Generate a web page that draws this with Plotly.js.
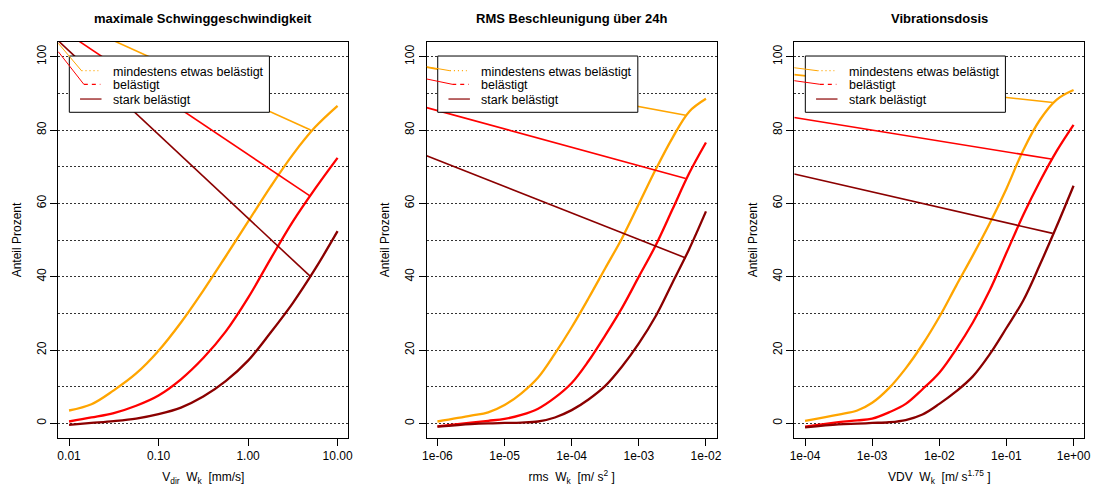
<!DOCTYPE html>
<html><head><meta charset="utf-8">
<script src="https://cdn.plot.ly/plotly-3.0.1.min.js"></script>
<style>html,body{margin:0;padding:0;background:#fff}#chart{width:1097px;height:486px}</style>
</head><body><div id="chart"></div>
<script>
// ---- data ----
const seriesNames = ["mindestens etwas belästigt", "belästigt", "stark belästigt"];
const seriesColors = ["#FFA500", "#FF0000", "#8B0000"];
const panelTitles = ["maximale Schwinggeschwindigkeit", "RMS Beschleunigung über 24h", "Vibrationsdosis"];
const xTitles = ["V<sub>dir</sub>\u00a0\u00a0W<sub>k</sub>\u00a0\u00a0[mm/s]",
                 "rms\u00a0\u00a0W<sub>k</sub>\u00a0\u00a0[m/\u00a0s<sup>2</sup>\u00a0]",
                 "VDV\u00a0\u00a0W<sub>k</sub>\u00a0\u00a0[m/\u00a0s<sup>1.75</sup>\u00a0]"];
const yTitle = "Anteil Prozent";

// panel 1: maximale Schwinggeschwindigkeit
const vX      = [0.01, 0.0178, 0.0316, 0.0562, 0.1, 0.178, 0.316, 0.562, 1, 1.78, 3.16, 5.62, 10];
const vOrange = [3.5, 5.2, 9.0, 13.6, 19.8, 27.5, 36.2, 45.5, 55, 64.5, 73.3, 80.8, 86.6];
const vRed    = [0.5, 1.6, 2.8, 4.8, 7.6, 12, 17.8, 25, 34.2, 44.8, 55, 64, 72.4];
const vDark   = [-0.4, 0.1, 0.6, 1.3, 2.5, 4.3, 7.3, 11.5, 17.1, 24.7, 32.8, 42.1, 52.4];
const vSegX = [0.0076, 5];
const vSegOrange = [111.2, 80];
const vSegRed = [108, 61.9];
const vSegDark = [104.3, 40];
const vTickVals = [0.01, 0.1, 1, 10];
const vTickText = ["0.01", "0.10", "1.00", "10.00"];

// panel 2: RMS Beschleunigung über 24h
const aX      = [1e-6, 3.16e-6, 5.7e-6, 1e-5, 1.78e-5, 3.16e-5, 5.62e-5, 1e-4, 1.78e-4, 3.16e-4, 5.62e-4, 1e-3, 1.78e-3, 3.16e-3, 5.62e-3, 1e-2];
const aOrange = [0.5, 2.1, 3.0, 5.0, 8.2, 12.5, 19, 26.2, 34.1, 42.3, 50.5, 59.8, 69.2, 77.8, 85, 88.5];
const aRed    = [-0.8, 0.2, 0.7, 1.2, 2.3, 4.0, 7.0, 11, 17, 24, 31.5, 40, 48.5, 58.3, 68.2, 76.6];
const aDark   = [-0.9, -0.2, 0.0, 0.1, 0.2, 0.5, 1.6, 3.6, 6.5, 10.2, 15.5, 21.8, 29.2, 38.3, 47.5, 57.8];
const aSegX = [6.9e-7, 5e-3];
const aSegOrange = [97.1, 84];
const aSegRed = [86.1, 66.8];
const aSegDark = [73.0, 45.1];
const aTickVals = [1e-6, 1e-5, 1e-4, 1e-3, 1e-2];
const aTickText = ["1e-06", "1e-05", "1e-04", "1e-03", "1e-02"];

// panel 3: Vibrationsdosis
const dX      = [1e-4, 3.16e-4, 6.0e-4, 1e-3, 1.78e-3, 3.16e-3, 5.62e-3, 1e-2, 1.78e-2, 3.16e-2, 5.62e-2, 0.1, 0.178, 0.316, 0.562, 1];
const dOrange = [0.7, 2.4, 3.5, 5.6, 9.6, 15, 21.5, 29, 37.5, 45.8, 54.5, 64, 74.5, 82.8, 88.3, 90.9];
const dRed    = [-0.9, 0.3, 0.8, 1.3, 3.0, 5.3, 9.3, 13.8, 20.2, 27.5, 36.2, 46.5, 56.8, 66, 74.3, 81.4];
const dDark   = [-1.1, -0.3, -0.1, 0.1, 0.3, 0.9, 2.4, 5.3, 8.7, 12.8, 18.8, 26, 33.5, 43.3, 53.8, 64.8];
const dSegX = [6.9e-5, 0.49];
const dSegOrange = [95.1, 87.5];
const dSegRed = [83.4, 72.0];
const dSegDark = [68.0, 51.8];
const dTickVals = [1e-4, 1e-3, 1e-2, 1e-1, 1];
const dTickText = ["1e-04", "1e-03", "1e-02", "1e-01", "1e+00"];

const yTickVals = [0, 20, 40, 60, 80, 100];

// ---- build ----
const panels = [
  {x: vX, ys: [vOrange, vRed, vDark], segX: vSegX, segs: [vSegOrange, vSegRed, vSegDark], tv: vTickVals, tt: vTickText, range: [-2.12, 1.12], thin: [0.9967, 0.9755]},
  {x: aX, ys: [aOrange, aRed, aDark], segX: aSegX, segs: [aSegOrange, aSegRed, aSegDark], tv: aTickVals, tt: aTickText, range: [-6.16, -1.84], thin: [0.9376, 0.9066]},
  {x: dX, ys: [dOrange, dRed, dDark], segX: dSegX, segs: [dSegOrange, dSegRed, dSegDark], tv: dTickVals, tt: dTickText, range: [-4.16, 0.16], thin: [0.935, 0.9023]}
];

const W = 1097, H = 486;
const plotLeftPx = [58.3, 426.7, 794.3];
const plotWidthPx = 290;
const yDom = [1 - 438 / H, 1 - 42 / H];
const font = {family: "Liberation Sans, Arial, Helvetica, sans-serif", size: 12, color: "#000"};
const legendFont = {family: font.family, size: 12.5, color: "#000"};

const traces = [];
const layout = {
  width: W, height: H,
  margin: {l: 0, r: 0, t: 0, b: 0},
  paper_bgcolor: "#fff", plot_bgcolor: "#fff",
  showlegend: false,
  font: font,
  shapes: [], annotations: []
};

const keyDash = ["1px,3px", "4px,4px", "solid"];
const keyX = [[0.08, 0.138], [0.088, 0.145], [0.075, 0.149]];
const rowY = [0.9275, 0.8932, 0.856];

panels.forEach((p, i) => {
  const n = i === 0 ? "" : String(i + 1);
  const xa = "x" + n, ya = "y" + n;
  p.ys.forEach((y, k) => {
    traces.push({x: p.x, y: y, xaxis: xa, yaxis: ya, type: "scatter", mode: "lines",
      line: {color: seriesColors[k], width: 2.3, shape: "spline", smoothing: 1.0},
      name: seriesNames[k], hoverinfo: "skip"});
  });
  p.segs.forEach((y, k) => {
    traces.push({x: p.segX, y: y, xaxis: xa, yaxis: ya, type: "scatter", mode: "lines",
      line: {color: seriesColors[k], width: 1.6}, name: seriesNames[k], hoverinfo: "skip"});
  });
  const x0 = plotLeftPx[i] / W, x1 = (plotLeftPx[i] + plotWidthPx) / W;
  layout["xaxis" + n] = {
    domain: [x0, x1], anchor: ya, type: "log", range: p.range,
    tickmode: "array", tickvals: p.tv, ticktext: p.tt,
    ticks: "outside", ticklen: 7, tickcolor: "#000", tickwidth: 1,
    showline: true, mirror: true, linecolor: "#000", linewidth: 1,
    showgrid: false, zeroline: false, automargin: false,
    tickfont: font,
    title: {text: xTitles[i], font: font, standoff: 12}
  };
  layout["yaxis" + n] = {
    domain: yDom, anchor: xa, range: [-4, 104],
    tickmode: "array", tickvals: yTickVals, tickangle: -90,
    ticks: "outside", ticklen: 7, tickcolor: "#000", tickwidth: 1,
    showline: true, mirror: true, linecolor: "#000", linewidth: 1,
    showgrid: true, gridcolor: "#333", gridwidth: 1, griddash: "2px,2px",
    minor: {dtick: 10, tick0: 0, showgrid: true, gridcolor: "#333", gridwidth: 1, griddash: "2px,2px", ticks: ""},
    zeroline: false, automargin: false,
    tickfont: font,
    title: {text: yTitle, font: font, standoff: 10}
  };
  // panel title
  layout.annotations.push({text: "<b>" + panelTitles[i] + "</b>", xref: "paper", yref: "paper",
    x: (x0 + x1) / 2, y: 1 - 18.3 / H, xanchor: "center", yanchor: "middle", showarrow: false,
    font: {family: font.family, size: 13, color: "#000"}});
  // legend (drawn by hand, like the R legend)
  const xr = xa + " domain", yr = ya + " domain";
  layout.shapes.push({type: "rect", xref: xr, yref: yr, x0: 0.038, x1: 0.728, y0: 0.8225, y1: 0.9646,
    fillcolor: "#fff", line: {color: "#000", width: 1}, layer: "above"});
  // thin lines running to the legend keys
  layout.shapes.push({type: "line", xref: xr, yref: yr, x0: 0, y0: p.thin[0], x1: keyX[0][0], y1: rowY[0],
    line: {color: seriesColors[0], width: 1}, layer: "above"});
  layout.shapes.push({type: "line", xref: xr, yref: yr, x0: 0, y0: p.thin[1], x1: keyX[1][0], y1: rowY[1],
    line: {color: seriesColors[1], width: 1}, layer: "above"});
  seriesNames.forEach((nm, k) => {
    layout.shapes.push({type: "line", xref: xr, yref: yr, x0: keyX[k][0], x1: keyX[k][1], y0: rowY[k], y1: rowY[k],
      line: {color: seriesColors[k], width: 1.2, dash: keyDash[k]}, layer: "above"});
    layout.annotations.push({text: nm, xref: xr, yref: yr, x: 0.18, y: rowY[k] - 0.003,
      xanchor: "left", yanchor: "middle", showarrow: false, font: legendFont});
  });
});

Plotly.newPlot("chart", traces, layout, {staticPlot: true, displayModeBar: false});
</script></body></html>
